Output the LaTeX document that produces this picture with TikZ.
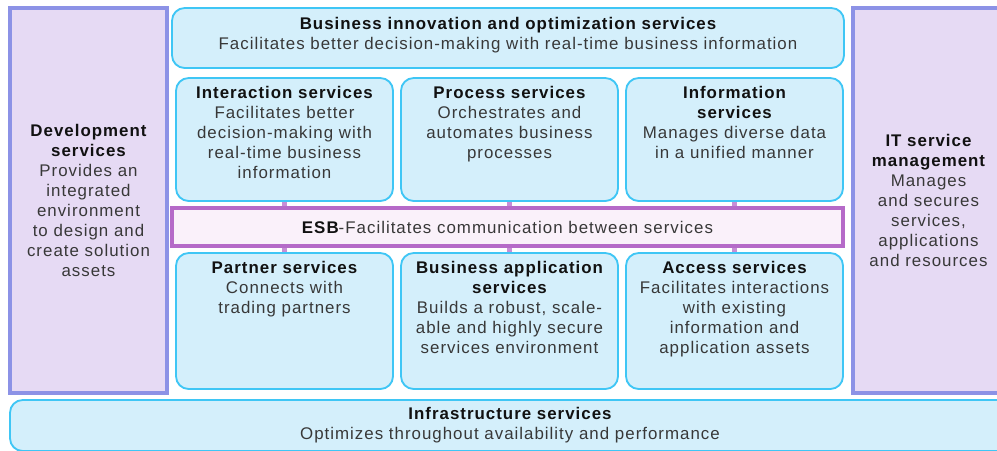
\documentclass[tikz,border=0pt]{standalone}
\usepackage{fontspec}
\setmainfont{Liberation Sans}[LetterSpace=6]
\usetikzlibrary{positioning,fit}
\definecolor{soaInk}{HTML}{111111}
\definecolor{soaGray}{HTML}{383838}
\definecolor{soaSky}{HTML}{D4EFFB}
\definecolor{soaCyan}{HTML}{3FC6F5}
\definecolor{soaLilac}{HTML}{E6DAF4}
\definecolor{soaViolet}{HTML}{8C92E6}
\definecolor{soaBlush}{HTML}{FAF1FA}
\definecolor{soaPlum}{HTML}{B56AC8}
\tikzset{
  every picture/.style={font=\fontsize{12}{14.2}\selectfont, text=soaGray},
  svc box/.style={draw=soaCyan, line width=1.3pt, rounded corners=9pt,
    fill=soaSky, inner sep=0pt},
  side box/.style={draw=soaViolet, line width=2.2pt, fill=soaLilac, inner sep=0pt},
  esb box/.style={draw=soaPlum, line width=2.2pt, fill=soaBlush, inner sep=0pt},
  svc text/.style={align=center, inner sep=0pt},
  esb link/.style={draw=soaPlum!75, line width=4.2pt}
}
\newcommand{\svchead}[1]{\textcolor{soaInk}{\bfseries #1}}

\begin{document}
\begin{tikzpicture}[x=0.025cm,y=-0.025cm]
  \useasboundingbox (0,0) rectangle (997,450);
  \clip (0,0) rectangle (997,450);

  % side columns
  \node[side box, fit={(10,8) (167,393)}] (dev) {};
  \node[side box, fit={(853,8) (1004,393)}] (itsm) {};
  % top and bottom layers
  \node[svc box, fit={(172,8) (844,68)}] (bizopt) {};
  \node[svc box, fit={(10,400) (1010,451)}] (infra) {};
  % upper service row
  \node[svc box, fit={(176,78) (393,201)}] (interact) {};
  \node[svc box, fit={(401,78) (618,201)}] (process) {};
  \node[svc box, fit={(626,78) (843,201)}] (info) {};
  % enterprise service bus
  \node[esb box, fit={(172,208) (843,246)}] (esb) {};
  % lower service row
  \node[svc box, fit={(176,253) (393,389)}] (partner) {};
  \node[svc box, fit={(401,253) (618,389)}] (bizapp) {};
  \node[svc box, fit={(626,253) (843,389)}] (access) {};

  % bus links
  \foreach \svc in {interact,process,info}
    \draw[esb link] (\svc.south) -- (\svc.south |- esb.north);
  \foreach \svc in {partner,bizapp,access}
    \draw[esb link] (esb.south -| \svc) -- (\svc.north);

  % labels
  \node[svc text] (devText) at (dev) {\svchead{Development}\\\svchead{services}\\Provides an\\integrated\\environment\\to design and\\create solution\\assets};
  \node[svc text] (itsmText) at (itsm) {\svchead{IT service}\\\svchead{management}\\Manages\\and secures\\services,\\applications\\and resources};
  \node[svc text, below=7pt of bizopt.north] (bizoptText) {\svchead{Business innovation and optimization services}\\Facilitates better decision-making with real-time business information};
  \node[svc text, below=6.5pt of interact.north] (interactText) {\svchead{Interaction services}\\Facilitates better\\decision-making with\\real-time business\\information};
  \node[svc text, below=6.5pt of process.north] (processText) {\svchead{Process services}\\Orchestrates and\\automates business\\processes};
  \node[svc text, below=6.5pt of info.north] (infoText) {\svchead{Information}\\\svchead{services}\\Manages diverse data\\in a unified manner};
  \node[svc text] (esbText) at (esb) {\svchead{ESB}-Facilitates communication between services};
  \node[svc text, below=6.5pt of partner.north] (partnerText) {\svchead{Partner services}\\Connects with\\trading partners};
  \node[svc text, below=6.5pt of bizapp.north] (bizappText) {\svchead{Business application}\\\svchead{services}\\Builds a robust, scale-\\able and highly secure\\services environment};
  \node[svc text, below=6.5pt of access.north] (accessText) {\svchead{Access services}\\Facilitates interactions\\with existing\\information and\\application assets};
  \node[svc text, below=5.5pt of infra.north] (infraText) {\svchead{Infrastructure services}\\Optimizes throughout availability and performance};
\end{tikzpicture}
\end{document}
